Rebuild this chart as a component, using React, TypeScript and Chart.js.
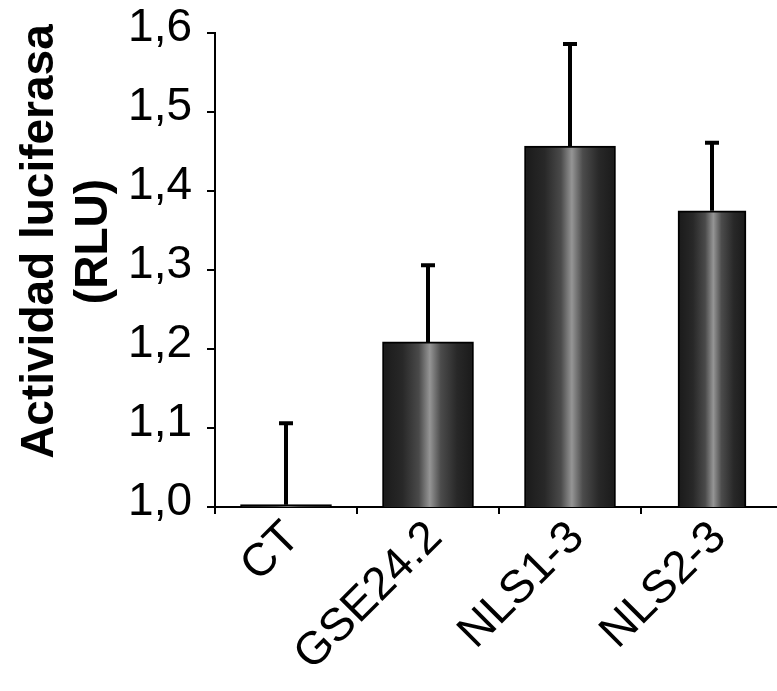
import React, { useEffect, useRef } from "react";
import { Chart, registerables } from "chart.js";

Chart.register(...registerables);

const categories = ["CT", "GSE24.2", "NLS1-3", "NLS2-3"];
const values = [1.003, 1.209, 1.457, 1.375];
const errors = [0.103, 0.097, 0.129, 0.086];
const yMin = 1.0;
const yMax = 1.6;
const yStep = 0.1;
const yTitleLines = ["Actividad luciferasa", "(RLU)"];

const FONT = '"Liberation Sans", Arial, Helvetica, sans-serif';
const WIDE = 91;
const NARROW = 68;

const makeFill = (w: number) => (c: any) => {
  const chart = c.chart;
  const xs = chart.scales && chart.scales.x;
  if (!xs || c.dataIndex === undefined) return "#333";
  const cx = xs.getPixelForValue(c.dataIndex);
  if (!isFinite(cx)) return "#333";
  const g = chart.ctx.createLinearGradient(cx - w / 2, 0, cx + w / 2, 0);
  g.addColorStop(0, "#1a1a1a");
  g.addColorStop(0.22, "#282828");
  g.addColorStop(0.4, "#4a4a4a");
  g.addColorStop(0.52, "#959595");
  g.addColorStop(0.64, "#4c4c4c");
  g.addColorStop(0.82, "#282828");
  g.addColorStop(1, "#1a1a1a");
  return g;
};

const errorBarPlugin = {
  id: "errorBars",
  afterDatasetsDraw(chart: any) {
    const { ctx, scales } = chart;
    const xs = scales.x;
    const ys = scales.y;
    ctx.save();
    ctx.strokeStyle = "#000";
    ctx.lineWidth = 4;
    values.forEach((v, i) => {
      const x = xs.getPixelForValue(i);
      const yb = ys.getPixelForValue(v);
      const yt = ys.getPixelForValue(v + errors[i]);
      ctx.beginPath();
      ctx.moveTo(x, yb);
      ctx.lineTo(x, yt);
      ctx.moveTo(x - 7, yt);
      ctx.lineTo(x + 7, yt);
      ctx.stroke();
    });
    ctx.restore();
  },
};

const yTitlePlugin = {
  id: "yTitle",
  afterDraw(chart: any) {
    const { ctx, chartArea } = chart;
    const cy = chartArea.top + (chartArea.bottom - chartArea.top) * 0.44;
    const baselines = [chartArea.left - 162, chartArea.left - 108];
    ctx.save();
    ctx.fillStyle = "#000";
    ctx.font = `bold 46px ${FONT}`;
    ctx.textAlign = "center";
    ctx.textBaseline = "alphabetic";
    yTitleLines.forEach((line, i) => {
      ctx.save();
      ctx.translate(baselines[i], cy);
      ctx.rotate(-Math.PI / 2);
      ctx.fillText(line, 0, 0);
      ctx.restore();
    });
    ctx.restore();
  },
};

export default function App() {
  const ref = useRef<HTMLCanvasElement>(null);

  useEffect(() => {
    if (!ref.current) return;
    const chart = new Chart(ref.current, {
      type: "bar",
      data: {
        labels: categories,
        datasets: [
          {
            data: values.map((v, i) => (i === 3 ? null : v)),
            backgroundColor: makeFill(WIDE),
            borderColor: "#000",
            borderWidth: 2,
            barThickness: WIDE,
            grouped: false,
          } as any,
          {
            data: values.map((v, i) => (i === 3 ? v : null)),
            backgroundColor: makeFill(NARROW),
            borderColor: "#000",
            borderWidth: 2,
            barThickness: NARROW,
            grouped: false,
          } as any,
        ],
      },
      options: {
        responsive: false,
        animation: false,
        layout: { padding: { top: 33, right: 2, left: 0, bottom: 0 } },
        plugins: {
          legend: { display: false },
          tooltip: { enabled: false },
          title: { display: false },
        },
        scales: {
          x: {
            type: "category",
            offset: true,
            grid: {
              offset: true,
              drawOnChartArea: false,
              tickLength: 7,
              color: "#000",
              lineWidth: 2,
            },
            border: { color: "#000", width: 2 },
            ticks: {
              color: "#000",
              font: { family: FONT, size: 46 },
              minRotation: 45,
              maxRotation: 45,
              autoSkip: false,
              padding: -3,
              labelOffset: 7,
            },
            afterFit: (s: any) => {
              s.height = 184;
            },
          },
          y: {
            type: "linear",
            min: yMin,
            max: yMax,
            grid: {
              drawOnChartArea: false,
              tickLength: 8,
              color: "#000",
              lineWidth: 2,
            },
            border: { color: "#000", width: 2 },
            ticks: {
              stepSize: yStep,
              color: "#000",
              font: { family: FONT, size: 46, lineHeight: 0.7 },
              padding: 15,
              labelOffset: -5,
              callback: (v: any) => Number(v).toFixed(1).replace(".", ","),
            },
            afterFit: (s: any) => {
              s.width = 215;
            },
          },
        },
      } as any,
      plugins: [errorBarPlugin, yTitlePlugin],
    });
    return () => chart.destroy();
  }, []);

  return (
    <div
      style={{
        position: "fixed",
        left: 0,
        top: 0,
        width: 777,
        height: 691,
        overflow: "hidden",
        background: "#fff",
      }}
    >
      <canvas ref={ref} width={785} height={691} style={{ display: "block", width: 785, height: 691 }} />
    </div>
  );
}
